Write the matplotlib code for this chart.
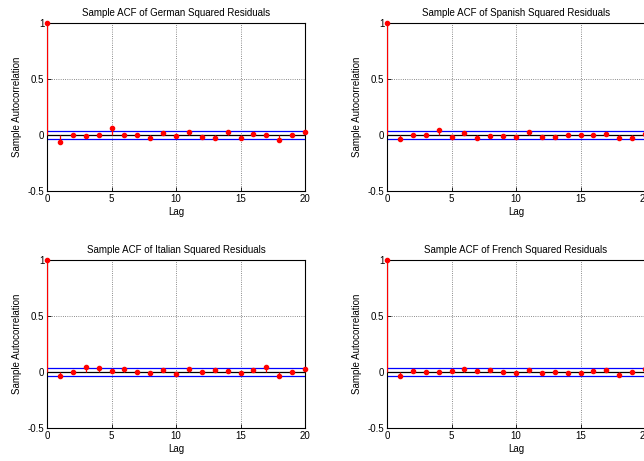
import numpy as np
from matplotlib import pyplot as plt

plt.rcParams['font.family'] = ['Liberation Sans', 'DejaVu Sans']
plt.rcParams['font.size'] = 7

lags = np.arange(0, 21)
german = [1, -0.062, 0.003, -0.009, 0.003, 0.062, 0.003, 0.003, -0.024, 0.015, -0.009,
          0.030, -0.021, -0.024, 0.030, -0.030, 0.009, 0.003, -0.045, 0.003, 0.030]
spanish = [1, -0.039, 0.003, -0.003, 0.045, -0.018, 0.015, -0.024, -0.009, -0.009, -0.018,
           0.027, -0.021, -0.021, 0.003, 0.003, -0.003, 0.006, -0.024, -0.024, 0.009]
italian = [1, -0.039, 0.003, 0.042, 0.036, 0.009, 0.027, -0.003, -0.006, 0.018, -0.018,
           0.027, 0.000, 0.015, 0.009, -0.006, 0.021, 0.042, -0.039, 0.003, 0.030]
french = [1, -0.033, 0.009, 0.003, 0.003, 0.009, 0.030, 0.006, 0.021, 0.003, -0.006,
          0.015, -0.006, 0.000, -0.006, -0.006, 0.009, 0.018, -0.024, 0.003, 0.027]
bound = 0.036

titles = ["Sample ACF of German Squared Residuals", "Sample ACF of Spanish Squared Residuals",
          "Sample ACF of Italian Squared Residuals", "Sample ACF of French Squared Residuals"]
series = [german, spanish, italian, french]
# axes rectangles in figure fractions (right column runs off the edge like the original)
rects = [[0.073, 0.5857, 0.4006, 0.3644], [0.601, 0.5857, 0.4006, 0.3644],
         [0.073, 0.0716, 0.4006, 0.3644], [0.601, 0.0716, 0.4006, 0.3644]]

fig = plt.figure(figsize=(6.44, 4.61), dpi=100)
for rect, title, acf in zip(rects, titles, series):
    ax = fig.add_axes(rect)
    ax.grid(True, color='black', linestyle=':', linewidth=0.6, alpha=0.6)
    ax.axhline(0, color='black', linewidth=0.9, zorder=2)
    ax.axhline(bound, color='blue', linewidth=0.9, zorder=2)
    ax.axhline(-bound, color='blue', linewidth=0.9, zorder=2)
    ax.vlines(lags, 0, acf, color='red', linewidth=0.9, zorder=3)
    ax.plot(lags, acf, 'o', color='red', markersize=3, zorder=4, clip_on=False)
    ax.set_xlim(0, 20)
    ax.set_ylim(-0.5, 1)
    ax.set_xticks([0, 5, 10, 15, 20])
    ax.set_yticks([-0.5, 0, 0.5, 1])
    ax.set_yticklabels(["-0.5", "0", "0.5", "1"])
    ax.tick_params(direction='in', length=3, width=0.6, pad=2)
    for s in ax.spines.values():
        s.set_linewidth(0.8)
    ax.set_title(title, fontsize=7, pad=5)
    ax.set_xlabel("Lag", labelpad=2)
    ax.set_ylabel("Sample Autocorrelation", labelpad=4)

plt.savefig("out.png", dpi=100)
plt.close()
